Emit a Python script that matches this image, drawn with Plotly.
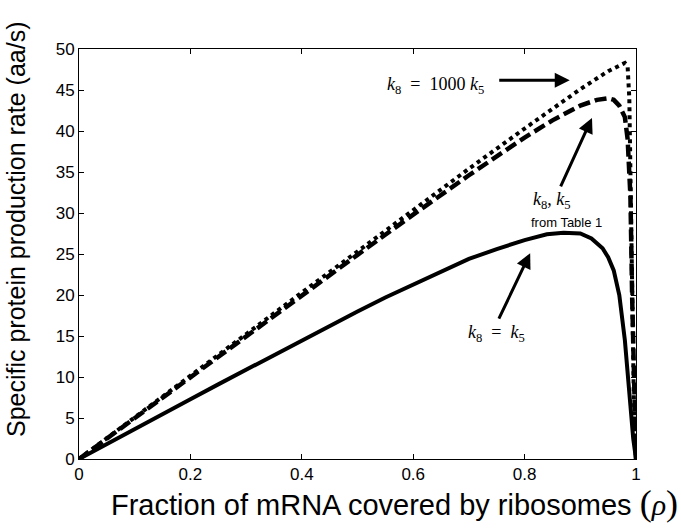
import plotly.graph_objects as go

# ---- data ----
rho_solid = [0, 0.05, 0.1, 0.15, 0.2, 0.25, 0.3, 0.35, 0.4, 0.45, 0.5, 0.55, 0.6, 0.65, 0.7,
             0.75, 0.8, 0.84, 0.87, 0.9, 0.92, 0.94, 0.95, 0.96, 0.97, 0.98, 0.985, 0.99, 0.995, 1.0]
rate_solid = [0, 1.85, 3.7, 5.5, 7.3, 9.1, 10.9, 12.7, 14.5, 16.2, 18.0, 19.7, 21.3, 22.9, 24.4,
              25.6, 26.7, 27.4, 27.6, 27.5, 26.9, 25.7, 24.6, 23.0, 20.0, 14.5, 11.0, 6.5, 2.5, 0]

rho_table = [0, 0.1, 0.2, 0.3, 0.4, 0.5, 0.6, 0.7, 0.8, 0.85, 0.9, 0.93, 0.95, 0.96, 0.97,
             0.98, 0.985, 0.99, 0.993, 0.996, 1.0]
rate_table = [0, 5.0, 10.0, 15.0, 20.0, 24.9, 29.8, 34.6, 39.2, 41.3, 43.1, 43.8, 44.0, 43.8, 43.1,
              41.7, 39.0, 32.0, 20.0, 8.0, 0]

rho_fast = [0, 0.1, 0.2, 0.3, 0.4, 0.5, 0.6, 0.7, 0.8, 0.9, 0.95, 0.98, 0.985, 0.988, 0.99,
            0.993, 0.996, 1.0]
rate_fast = [0, 5.1, 10.2, 15.2, 20.3, 25.3, 30.4, 35.4, 40.3, 45.1, 47.3, 48.3, 47.8, 44.0, 35.0,
             20.0, 8.0, 0]

x_ticks = [0, 0.2, 0.4, 0.6, 0.8, 1]
x_tick_text = ["0", "0.2", "0.4", "0.6", "0.8", "1"]
y_ticks = [0, 5, 10, 15, 20, 25, 30, 35, 40, 45, 50]

fig = go.Figure()
fig.add_trace(go.Scatter(x=rho_fast, y=rate_fast, mode="lines",
                         line=dict(color="black", width=4, dash="dot"), showlegend=False))
fig.add_trace(go.Scatter(x=rho_table, y=rate_table, mode="lines",
                         line=dict(color="black", width=4.5, dash="12px,5px"), showlegend=False))
fig.add_trace(go.Scatter(x=rho_solid, y=rate_solid, mode="lines",
                         line=dict(color="black", width=4), showlegend=False))

serif = "Liberation Serif, Times New Roman, serif"
sans = "Liberation Sans, Arial, Helvetica, sans-serif"

annotations = [
    # arrows
    dict(x=0.881, y=46.2, xref="x", yref="y", ax=-72, ay=0, text="", showarrow=True,
         arrowhead=2, arrowsize=1, arrowwidth=3, arrowcolor="black"),
    dict(x=0.921, y=41.6, xref="x", yref="y", ax=-32, ay=70, text="", showarrow=True,
         arrowhead=2, arrowsize=1, arrowwidth=3, arrowcolor="black"),
    dict(x=0.810, y=25.1, xref="x", yref="y", ax=-32, ay=67, text="", showarrow=True,
         arrowhead=2, arrowsize=1, arrowwidth=3, arrowcolor="black"),
    # labels
    dict(x=0.64, y=45.5, xref="x", yref="y", showarrow=False,
         text="<i>k</i><sub>8</sub>  =  1000 <i>k</i><sub>5</sub>",
         font=dict(family=serif, size=18, color="black")),
    dict(x=0.85, y=31.5, xref="x", yref="y", showarrow=False,
         text="<i>k</i><sub>8</sub>, <i>k</i><sub>5</sub>",
         font=dict(family=serif, size=18, color="black")),
    dict(x=0.875, y=28.8, xref="x", yref="y", showarrow=False,
         text="from Table 1",
         font=dict(family=sans, size=13, color="black")),
    dict(x=0.750, y=15.3, xref="x", yref="y", showarrow=False,
         text="<i>k</i><sub>8</sub>  =  <i>k</i><sub>5</sub>",
         font=dict(family=serif, size=18, color="black")),
    # axis titles
    dict(x=1.077, y=-0.108, xref="paper", yref="paper", xanchor="right", yanchor="middle",
         showarrow=False, borderpad=0,
         text="Fraction of mRNA covered by ribosomes "
              "<span style='font-family:Liberation Serif;font-size:36px'>(</span>"
              "<span style='font-family:Liberation Serif;font-size:30px'><i>ρ</i></span>"
              "<span style='font-family:Liberation Serif;font-size:36px'>)</span>",
         font=dict(family=sans, size=29, color="black")),
    dict(x=-0.112, y=0.56, xref="paper", yref="paper", xanchor="center", yanchor="middle",
         textangle=-90, showarrow=False, borderpad=0,
         text="Specific protein production rate (aa/s)",
         font=dict(family=sans, size=25, color="black")),
]

fig.update_layout(
    width=681, height=531,
    margin=dict(l=79, r=45, t=49, b=72),
    paper_bgcolor="white", plot_bgcolor="white",
    font=dict(family=sans, color="black", size=17),
    annotations=annotations,
    xaxis=dict(range=[0, 1], tickvals=x_ticks, ticktext=x_tick_text,
               ticks="inside", ticklen=5, tickcolor="black", showline=True, linecolor="black",
               linewidth=1, mirror="ticks", showgrid=False, zeroline=False,
               tickfont=dict(size=17)),
    yaxis=dict(range=[0, 50], tickvals=y_ticks,
               ticks="inside", ticklen=5, tickcolor="black", showline=True, linecolor="black",
               linewidth=1, mirror="ticks", showgrid=False, zeroline=False,
               tickfont=dict(size=17)),
)

fig.write_html("out.html")
